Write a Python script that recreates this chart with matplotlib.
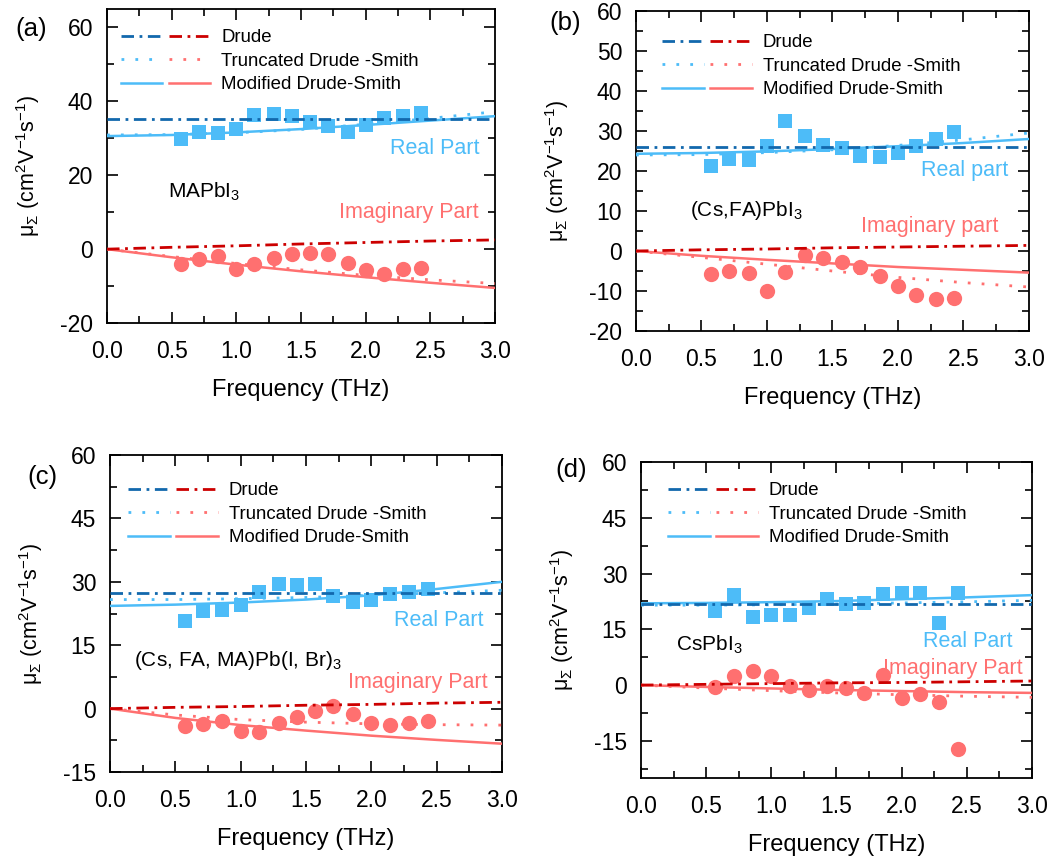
import matplotlib
matplotlib.use("AGG")
import matplotlib.pyplot as plt
from matplotlib.lines import Line2D
from matplotlib.legend_handler import HandlerTuple
from matplotlib.ticker import MultipleLocator

plt.rcParams['font.family'] = ['Liberation Sans', 'DejaVu Sans']
plt.rcParams['mathtext.fontset'] = 'custom'
plt.rcParams['mathtext.rm'] = 'Liberation Sans'
plt.rcParams['mathtext.it'] = 'Liberation Sans:italic'
plt.rcParams['mathtext.default'] = 'regular'
plt.rcParams['axes.unicode_minus'] = False
plt.rcParams['lines.scale_dashes'] = False

# measured points (THz)
freq = [0.57, 0.71, 0.86, 1.00, 1.14, 1.29, 1.43, 1.57, 1.71, 1.86, 2.00, 2.14, 2.29, 2.43]
# fit curves read at these frequencies
fit_freq = [0.0, 0.5, 1.0, 1.5, 2.0, 2.5, 3.0]

# (a) MAPbI3
a_real = [29.8, 31.8, 31.4, 32.5, 36.2, 36.6, 36.0, 34.3, 33.3, 31.7, 33.5, 35.4, 36.1, 36.8]
a_imag = [-4.0, -2.8, -1.8, -5.3, -4.1, -2.4, -1.4, -1.0, -1.4, -3.7, -5.6, -6.6, -5.3, -5.2]
a_drude_re = [35.2, 35.2, 35.2, 35.2, 35.2, 35.2, 35.2]
a_drude_im = [0.0, 0.5, 0.9, 1.4, 1.8, 2.2, 2.5]
a_tds_re = [30.9, 31.0, 31.5, 32.4, 33.8, 35.4, 37.2]
a_tds_im = [0.0, -2.0, -3.9, -5.6, -7.1, -8.3, -9.3]
a_mds_re = [30.6, 30.9, 31.6, 32.5, 33.6, 34.8, 36.0]
a_mds_im = [0.0, -2.2, -4.2, -6.0, -7.6, -9.1, -10.5]

# (b) (Cs,FA)PbI3
b_real = [21.3, 22.9, 22.8, 26.2, 32.4, 28.8, 26.4, 25.8, 23.8, 23.5, 24.5, 26.3, 28.1, 29.7]
b_imag = [-5.8, -5.0, -5.5, -10.0, -5.3, -0.9, -1.7, -2.8, -4.0, -6.3, -8.8, -11.1, -11.9, -11.8]
b_drude_re = [26.0, 26.0, 26.0, 26.0, 26.0, 26.0, 26.0]
b_drude_im = [0.0, 0.3, 0.5, 0.8, 1.0, 1.2, 1.4]
b_tds_re = [24.0, 24.1, 24.6, 25.3, 26.4, 27.8, 29.5]
b_tds_im = [0.0, -1.6, -3.3, -5.0, -6.6, -7.9, -9.0]
b_mds_re = [24.3, 24.5, 24.9, 25.5, 26.2, 27.0, 28.0]
b_mds_im = [0.0, -1.2, -2.2, -3.1, -4.0, -4.7, -5.4]

# (c) (Cs, FA, MA)Pb(I, Br)3
c_real = [20.7, 23.1, 23.4, 24.5, 27.5, 29.4, 29.2, 29.4, 26.6, 25.3, 25.8, 27.2, 27.5, 28.2]
c_imag = [-4.2, -3.6, -2.9, -5.4, -5.5, -3.4, -2.1, -0.6, 0.6, -1.3, -3.4, -3.9, -3.4, -2.9]
c_drude_re = [27.4, 27.4, 27.4, 27.4, 27.4, 27.4, 27.4]
c_drude_im = [0.0, 0.3, 0.5, 0.8, 1.0, 1.3, 1.5]
c_tds_re = [25.8, 25.8, 26.0, 26.3, 26.8, 27.4, 28.0]
c_tds_im = [0.0, -1.5, -2.6, -3.2, -3.6, -3.8, -3.9]
c_mds_re = [24.3, 24.6, 25.1, 25.8, 26.8, 28.3, 30.0]
c_mds_im = [0.0, -2.2, -3.9, -5.2, -6.4, -7.4, -8.3]

# (d) CsPbI3
d_real = [19.8, 24.3, 18.2, 18.9, 18.9, 20.8, 23.1, 21.7, 22.0, 24.4, 24.9, 24.9, 16.6, 24.9]
d_imag = [-0.4, 2.5, 3.8, 2.5, -0.3, -1.3, -0.2, -0.7, -2.1, 2.7, -3.6, -2.5, -4.5, -17.3]
d_drude_re = [21.8, 21.8, 21.8, 21.8, 21.8, 21.8, 21.8]
d_drude_im = [0.0, 0.2, 0.4, 0.6, 0.7, 0.9, 1.1]
d_tds_re = [21.5, 21.5, 21.6, 21.8, 22.1, 22.4, 22.8]
d_tds_im = [0.0, -0.8, -1.5, -2.1, -2.6, -3.0, -3.3]
d_mds_re = [22.0, 22.1, 22.3, 22.6, 23.1, 23.6, 24.2]
d_mds_im = [0.0, -0.5, -0.9, -1.3, -1.6, -1.9, -2.1]

light_blue = '#4dbcf8'
dark_blue = '#1268ad'
light_red = '#ff7070'
dark_red = '#cc0000'
dashdot = (9, 4, 2, 4)
dotted = (2, 8)

fig = plt.figure(figsize=(10.63, 8.58), dpi=100)

panels = [
    dict(rect=[0.1007, 0.6235, 0.365, 0.366], ylim=(-20, 65), major=20, minor=10,
         real=a_real, imag=a_imag, dre=a_drude_re, dim=a_drude_im, tre=a_tds_re, tim=a_tds_im,
         mre=a_mds_re, mim=a_mds_im, tag='(a)', tagxy=(0.014, 0.966),
         name='MAPbI$_3$', namexy=(0.47, 15.6),
         real_lbl='Real Part', realxy=(2.88, 27.3), imag_lbl='Imaginary Part', imagxy=(2.87, 9.9),
         leg=(0.035, 0.936)),
    dict(rect=[0.5983, 0.6142, 0.3697, 0.373], ylim=(-20, 60), major=10, minor=5,
         real=b_real, imag=b_imag, dre=b_drude_re, dim=b_drude_im, tre=b_tds_re, tim=b_tds_im,
         mre=b_mds_re, mim=b_mds_im, tag='(b)', tagxy=(0.517, 0.973),
         name='(Cs,FA)PbI$_3$', namexy=(0.41, 10.2),
         real_lbl='Real part', realxy=(2.84, 20.2), imag_lbl='Imaginary part', imagxy=(2.77, 6.2),
         leg=(0.067, 0.927)),
    dict(rect=[0.1035, 0.1002, 0.3688, 0.3695], ylim=(-15, 60), major=15, minor=7.5,
         real=c_real, imag=c_imag, dre=c_drude_re, dim=c_drude_im, tre=c_tds_re, tim=c_tds_im,
         mre=c_mds_re, mim=c_mds_im, tag='(c)', tagxy=(0.026, 0.444),
         name='(Cs, FA, MA)Pb(I, Br)$_3$', namexy=(0.18, 11.4),
         real_lbl='Real Part', realxy=(2.86, 20.9), imag_lbl='Imaginary Part', imagxy=(2.89, 6.1),
         leg=(0.047, 0.914)),
    dict(rect=[0.603, 0.0932, 0.3678, 0.3683], ylim=(-25, 60), major=15, minor=7.5,
         real=d_real, imag=d_imag, dre=d_drude_re, dim=d_drude_im, tre=d_tds_re, tim=d_tds_im,
         mre=d_mds_re, mim=d_mds_im, tag='(d)', tagxy=(0.522, 0.452),
         name='CsPbI$_3$', namexy=(0.27, 10.8),
         real_lbl='Real Part', realxy=(2.85, 11.7), imag_lbl='Imaginary Part', imagxy=(2.93, 4.4),
         leg=(0.07, 0.936)),
]

for p in panels:
    ax = fig.add_axes(p['rect'])
    ax.plot(freq, p['real'], 's', color=light_blue, markersize=10.5, mew=0, zorder=2)
    ax.plot(freq, p['imag'], 'o', color=light_red, markersize=11, mew=0, zorder=2)

    ax.plot(fit_freq, p['tre'], color=light_blue, lw=2.0, dashes=dotted, zorder=3)
    ax.plot(fit_freq, p['tim'], color=light_red, lw=2.0, dashes=dotted, zorder=3)
    ax.plot(fit_freq, p['mre'], color=light_blue, lw=1.8, zorder=3)
    ax.plot(fit_freq, p['mim'], color=light_red, lw=1.8, zorder=3)
    ax.plot(fit_freq, p['dre'], color=dark_blue, lw=2.0, dashes=dashdot, zorder=4)
    ax.plot(fit_freq, p['dim'], color=dark_red, lw=2.0, dashes=dashdot, zorder=4)

    ax.set_xlim(0, 3.0)
    ax.set_ylim(*p['ylim'])
    ax.xaxis.set_major_locator(MultipleLocator(0.5))
    ax.xaxis.set_minor_locator(MultipleLocator(0.25))
    ax.yaxis.set_major_locator(MultipleLocator(p['major']))
    ax.yaxis.set_minor_locator(MultipleLocator(p['minor']))
    ax.xaxis.set_major_formatter(plt.FormatStrFormatter('%.1f'))
    ax.tick_params(which='both', direction='in', top=True, right=True, labelsize=16.5, width=1.2)
    ax.tick_params(which='major', length=8)
    ax.tick_params(which='minor', length=5)
    ax.tick_params(axis='x', which='major', pad=12)
    ax.tick_params(axis='y', which='major', pad=10)
    for s in ax.spines.values():
        s.set_linewidth(1.3)
    ax.set_xlabel('Frequency (THz)', fontsize=17, labelpad=12)
    ax.set_ylabel('μ$_Σ$ (cm$^2$V$^{-1}$s$^{-1}$)', fontsize=15.5, labelpad=13)

    ax.text(p['namexy'][0], p['namexy'][1], p['name'], fontsize=15, ha='left', va='center')
    ax.text(p['realxy'][0], p['realxy'][1], p['real_lbl'], fontsize=15.5, color=light_blue,
            ha='right', va='center')
    ax.text(p['imagxy'][0], p['imagxy'][1], p['imag_lbl'], fontsize=15.5, color=light_red,
            ha='right', va='center')
    fig.text(p['tagxy'][0], p['tagxy'][1], p['tag'], fontsize=18.5, ha='left', va='center')

    h_drude = (Line2D([], [], color=dark_blue, lw=2.0, dashes=dashdot),
               Line2D([], [], color=dark_red, lw=2.0, dashes=dashdot))
    h_tds = (Line2D([], [], color=light_blue, lw=2.0, dashes=dotted),
             Line2D([], [], color=light_red, lw=2.0, dashes=dotted))
    h_mds = (Line2D([], [], color=light_blue, lw=1.8),
             Line2D([], [], color=light_red, lw=1.8))
    ax.legend([h_drude, h_tds, h_mds],
              ['Drude', 'Truncated Drude -Smith', 'Modified Drude-Smith'],
              handler_map={tuple: HandlerTuple(ndivide=None, pad=0.35)},
              loc='upper left', bbox_to_anchor=p['leg'], frameon=False, fontsize=13.4,
              handlelength=4.8, handletextpad=0.6, labelspacing=0.35, borderpad=0,
              borderaxespad=0)

fig.savefig('out.png', dpi=100)
